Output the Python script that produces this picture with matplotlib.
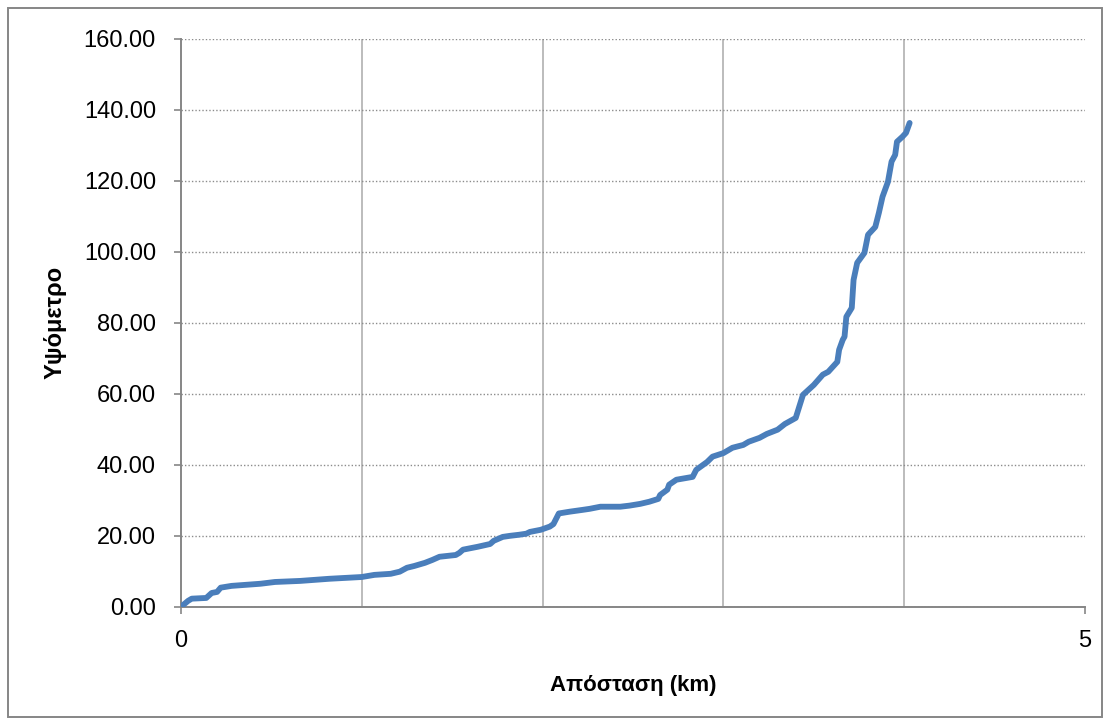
import matplotlib.pyplot as plt
from matplotlib.patches import Rectangle
from matplotlib.ticker import FixedLocator

# Προφίλ υψομέτρου κατά μήκος της διαδρομής
distance_km = [0.00, 0.04, 0.06, 0.14, 0.17, 0.20, 0.22, 0.28, 0.44, 0.52, 0.66,
               0.82, 1.00, 1.07, 1.16, 1.21, 1.25, 1.29, 1.35, 1.39, 1.43, 1.52,
               1.54, 1.56, 1.64, 1.71, 1.73, 1.78, 1.82, 1.87, 1.91, 1.93, 1.99,
               2.04, 2.06, 2.09, 2.15, 2.22, 2.26, 2.32, 2.43, 2.48, 2.54, 2.59,
               2.64, 2.65, 2.69, 2.70, 2.74, 2.83, 2.85, 2.91, 2.94, 3.00, 3.05,
               3.11, 3.14, 3.20, 3.24, 3.30, 3.34, 3.40, 3.44, 3.50, 3.55, 3.58,
               3.63, 3.64, 3.66, 3.67, 3.68, 3.71, 3.72, 3.74, 3.78, 3.80, 3.84,
               3.86, 3.88, 3.91, 3.93, 3.95, 3.96, 3.99, 4.01, 4.03]
elevation = [0.0, 1.7, 2.3, 2.5, 3.9, 4.2, 5.4, 5.9, 6.5, 7.0, 7.3,
             7.9, 8.4, 9.0, 9.3, 9.9, 11.0, 11.5, 12.4, 13.2, 14.1, 14.6,
             15.2, 16.1, 16.9, 17.7, 18.6, 19.7, 20.0, 20.3, 20.6, 21.1, 21.7,
             22.6, 23.3, 26.3, 26.8, 27.3, 27.6, 28.2, 28.2, 28.5, 29.0, 29.6,
             30.4, 31.5, 33.0, 34.4, 35.8, 36.6, 38.6, 40.8, 42.3, 43.3, 44.8,
             45.6, 46.5, 47.6, 48.7, 49.9, 51.5, 53.2, 59.7, 62.5, 65.4, 66.2,
             69.0, 72.4, 75.2, 76.1, 81.7, 84.2, 92.1, 96.9, 99.7, 104.8, 107.0,
             111.0, 115.5, 119.7, 125.4, 127.3, 131.0, 132.4, 133.5, 136.3]

y_ticks = [0, 20, 40, 60, 80, 100, 120, 140, 160]
x_ticks = [0, 5]
x_grid = [1, 2, 3, 4]

plt.rcParams['font.family'] = ['Liberation Sans', 'DejaVu Sans']
axis_gray = '#868686'

fig = plt.figure(figsize=(11.1, 7.25), dpi=100)
ax = fig.add_axes([0.163, 0.163, 0.8145, 0.7835])

ax.plot(distance_km, elevation, color='#4a7ebb', linewidth=4.2,
        solid_joinstyle='round', solid_capstyle='round', zorder=3)

ax.set_xlim(0, 5)
ax.set_ylim(0, 160)
ax.set_xticks(x_ticks)
ax.set_xticklabels([str(v) for v in x_ticks])
ax.xaxis.set_minor_locator(FixedLocator(x_grid))
ax.set_yticks(y_ticks)
ax.set_yticklabels([f'{v:.2f}' for v in y_ticks])

ax.grid(axis='y', which='major', color='#8c8c8c', linestyle=(0, (1, 1.5)), linewidth=1.0)
ax.grid(axis='x', which='minor', color='#b0b0b0', linestyle='-', linewidth=1.2)
ax.tick_params(axis='x', which='minor', length=0)
ax.tick_params(axis='both', which='major', direction='out', length=5, width=1.2,
               color=axis_gray, labelsize=17)
ax.tick_params(axis='y', which='major', pad=13)
ax.tick_params(axis='x', which='major', pad=12)

for side in ('top', 'right'):
    ax.spines[side].set_visible(False)
for side in ('left', 'bottom'):
    ax.spines[side].set_color(axis_gray)
    ax.spines[side].set_linewidth(1.4)

ax.set_xlabel('Απόσταση (km)', fontsize=16, fontweight='bold', labelpad=16)
ax.set_ylabel('Υψόμετρο', fontsize=17, fontweight='bold', labelpad=12)

# Πλαίσιο γύρω από το διάγραμμα
fig.patches.append(Rectangle((8 / 1110, 8 / 725), 1094 / 1110, 709 / 725,
                             transform=fig.transFigure, fill=False,
                             edgecolor=axis_gray, linewidth=1.4))

fig.savefig('out.png', dpi=100)
